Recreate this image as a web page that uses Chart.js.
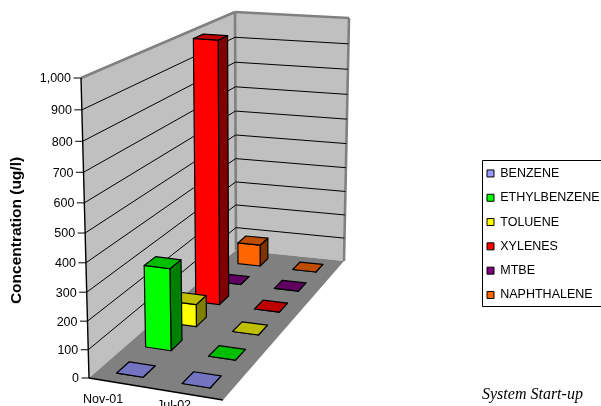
<!DOCTYPE html>
<html>
<head>
<meta charset="utf-8">
<title>Concentration by sampling event</title>
<script src="https://cdn.jsdelivr.net/npm/chart.js@4/dist/chart.umd.min.js"></script>
<style>
  body { margin: 0; background: #fff; overflow: hidden; }
  canvas { display: block; }
</style>
</head>
<body>
<canvas id="concentrationChart" width="601" height="406"></canvas>
<script>
const categories = ['Nov-01', 'Jul-02'];
const seriesNames = ['BENZENE', 'ETHYLBENZENE', 'TOLUENE', 'XYLENES', 'MTBE', 'NAPHTHALENE'];
const seriesColors = ['#9999FF', '#00FF00', '#FFFF00', '#FF0000', '#800080', '#FF6600'];

const benzene = [0, 0];
const ethylbenzene = [300, 0];
const toluene = [85, 0];
const xylenes = [1000, 0];
const mtbe = [0, 0];
const naphthalene = [90, 0];
const seriesValues = [benzene, ethylbenzene, toluene, xylenes, mtbe, naphthalene];

// Outline of the 3D box: floor and ceiling quads, as near-left, near-right, far-right, far-left
const floorQuad = [[89, 378], [223, 400], [344, 261], [236, 250]];
const ceilingQuad = [[81, 78], [222, 92], [349, 18], [235, 12]];
const heightPerspective = 0.935;
const barWidthShare = 0.41;
const barDepthShare = 0.42;

// Maps the unit square on to a quad
function squareToQuad(q) {
  const [[x0, y0], [x1, y1], [x2, y2], [x3, y3]] = q;
  const dx1 = x1 - x2, dx2 = x3 - x2, sx = x0 - x1 + x2 - x3;
  const dy1 = y1 - y2, dy2 = y3 - y2, sy = y0 - y1 + y2 - y3;
  const den = dx1 * dy2 - dx2 * dy1;
  const g = (sx * dy2 - dx2 * sy) / den;
  const h = (dx1 * sy - sx * dy1) / den;
  return (u, w) => {
    const d = g * u + h * w + 1;
    return [
      ((x1 - x0 + g * x1) * u + (x3 - x0 + h * x3) * w + x0) / d,
      ((y1 - y0 + g * y1) * u + (y3 - y0 + h * y3) * w + y0) / d
    ];
  };
}

const floorMap = squareToQuad(floorQuad);
const ceilingMap = squareToQuad(ceilingQuad);

// u = along the categories, w = into the depth, f = share of the value axis
function project(u, w, f) {
  const p0 = floorMap(u, w);
  const p1 = ceilingMap(u, w);
  const t = heightPerspective * f / ((1 - f) + heightPerspective * f);
  return [p0[0] + (p1[0] - p0[0]) * t, p0[1] + (p1[1] - p0[1]) * t];
}

function shade(hex, k) {
  const n = parseInt(hex.slice(1), 16);
  const r = Math.round((n >> 16) * k);
  const g = Math.round(((n >> 8) & 255) * k);
  const b = Math.round((n & 255) * k);
  return `rgb(${r}, ${g}, ${b})`;
}

function polygon(ctx, points, fill, stroke, lineWidth) {
  ctx.beginPath();
  points.forEach((p, i) => (i ? ctx.lineTo(p[0], p[1]) : ctx.moveTo(p[0], p[1])));
  ctx.closePath();
  if (fill) {
    ctx.fillStyle = fill;
    ctx.fill();
  }
  if (stroke) {
    ctx.strokeStyle = stroke;
    ctx.lineWidth = lineWidth;
    ctx.stroke();
  }
}

function line(ctx, a, b, color, lineWidth) {
  ctx.beginPath();
  ctx.moveTo(a[0], a[1]);
  ctx.lineTo(b[0], b[1]);
  ctx.strokeStyle = color;
  ctx.lineWidth = lineWidth;
  ctx.stroke();
}

function drawBox(ctx) {
  const [a, g, e, c] = floorQuad;
  const [b, , f, d] = ceilingQuad;
  polygon(ctx, [a, b, d, c], '#C0C0C0');
  polygon(ctx, [c, d, f, e], '#C0C0C0');
  polygon(ctx, [a, g, e, c], '#808080');
  line(ctx, b, d, '#808080', 2.6);
  line(ctx, d, f, '#808080', 2.6);
  line(ctx, f, e, '#808080', 2.6);
  line(ctx, d, c, '#808080', 2.6);
}

function drawValueAxis(ctx, chart) {
  const y = chart.scales.y;
  ctx.font = '12.5px "Liberation Sans"';
  ctx.fillStyle = '#000';
  ctx.textAlign = 'right';
  ctx.textBaseline = 'middle';
  y.ticks.forEach(tick => {
    const f = (y.bottom - y.getPixelForValue(tick.value)) / y.height;
    const near = project(0, 0, f);
    if (tick.value > 0 && tick.value < y.max) {
      line(ctx, near, project(0, 1, f), '#000', 1);
      line(ctx, project(0, 1, f), project(1, 1, f), '#000', 1);
    }
    line(ctx, [near[0] - 7.5, near[1]], near, '#000', 1);
    ctx.fillText(tick.label, near[0] - 10, near[1] + 1);
  });
  line(ctx, project(0, 0, 0), project(0, 0, 1), '#000', 1.4);
  line(ctx, project(0, 0, 0), project(1, 0, 0), '#000', 1.4);
}

function drawCategoryLabels(ctx, chart) {
  const x = chart.scales.x;
  ctx.font = '12.5px "Liberation Sans"';
  ctx.fillStyle = '#000';
  ctx.textAlign = 'center';
  ctx.textBaseline = 'middle';
  categories.forEach((label, i) => {
    const u = (x.getPixelForValue(i) - x.left) / x.width;
    const p = project(u, 0, 0);
    ctx.fillText(label, p[0] - 21 + 8 * u + 1, p[1] + 18.5 - 10 * u);
  });
}

function drawBar(ctx, chart, seriesIndex, catIndex) {
  const { x, y, depth } = chart.scales;
  const value = seriesValues[seriesIndex][catIndex];
  const uc = (x.getPixelForValue(catIndex) - x.left) / x.width;
  const wc = (depth.getPixelForValue(seriesIndex) - depth.left) / depth.width;
  const du = barWidthShare / categories.length / 2;
  const dw = barDepthShare / seriesNames.length / 2;
  const f = (y.bottom - y.getPixelForValue(value)) / y.height;
  const color = seriesColors[seriesIndex];

  const nlb = project(uc - du, wc - dw, 0), nrb = project(uc + du, wc - dw, 0);
  const frb = project(uc + du, wc + dw, 0);
  const nlt = project(uc - du, wc - dw, f), nrt = project(uc + du, wc - dw, f);
  const frt = project(uc + du, wc + dw, f), flt = project(uc - du, wc + dw, f);

  polygon(ctx, [nrb, frb, frt, nrt], shade(color, 0.5), '#000', 1.2);
  polygon(ctx, [nlb, nrb, nrt, nlt], color, '#000', 1.2);
  polygon(ctx, [nlt, nrt, frt, flt], shade(color, 0.75), '#000', 1.2);
}

const box3d = {
  id: 'box3d',
  // the legend sits in its own framed panel, away from the automatic layout
  afterLayout(chart) {
    chart.legend.left = 475.2;
    chart.legend.top = 155.4;
    chart.legend.bottom = 400;
  },
  beforeDatasetsDraw(chart) {
    const ctx = chart.ctx;
    ctx.save();
    ctx.lineJoin = 'round';
    drawBox(ctx);
    drawValueAxis(ctx, chart);
    drawCategoryLabels(ctx, chart);
    // painted far rows first, left to right within a row
    for (let s = seriesNames.length - 1; s >= 0; s--) {
      categories.forEach((c, i) => drawBar(ctx, chart, s, i));
    }

    ctx.strokeStyle = '#000';
    ctx.lineWidth = 1;
    ctx.strokeRect(482.5, 160.5, 125, 146);

    ctx.font = 'italic 16px "Liberation Serif"';
    ctx.fillStyle = '#000';
    ctx.textAlign = 'left';
    ctx.textBaseline = 'alphabetic';
    ctx.fillText('System Start-up', 482, 399);
    ctx.restore();
    return false;
  }
};

const datasets = seriesNames.map((name, i) => ({
  label: name,
  data: seriesValues[i],
  backgroundColor: seriesColors[i],
  borderColor: '#000',
  borderWidth: 1
}));

new Chart(document.getElementById('concentrationChart'), {
  type: 'bar',
  data: { labels: categories, datasets: datasets },
  plugins: [box3d],
  options: {
    responsive: false,
    animation: false,
    locale: 'en-US',
    layout: { padding: { top: 80, bottom: 25, left: 3, right: 0 } },
    plugins: {
      tooltip: { enabled: false },
      legend: {
        position: 'right',
        align: 'start',
        labels: {
          boxWidth: 7,
          boxHeight: 7,
          padding: 11.8,
          color: '#000',
          font: { family: '"Liberation Sans"', size: 12.5 }
        }
      }
    },
    scales: {
      x: { display: false },
      depth: { axis: 'x', type: 'category', labels: seriesNames, offset: true, display: false },
      y: {
        min: 0,
        max: 1000,
        ticks: { stepSize: 100, display: false },
        grid: { display: false },
        border: { display: false },
        title: {
          display: true,
          text: 'Concentration (ug/l)',
          color: '#000',
          font: { family: '"Liberation Sans"', size: 15.5, weight: 'bold' }
        }
      }
    }
  }
});
</script>
</body>
</html>
